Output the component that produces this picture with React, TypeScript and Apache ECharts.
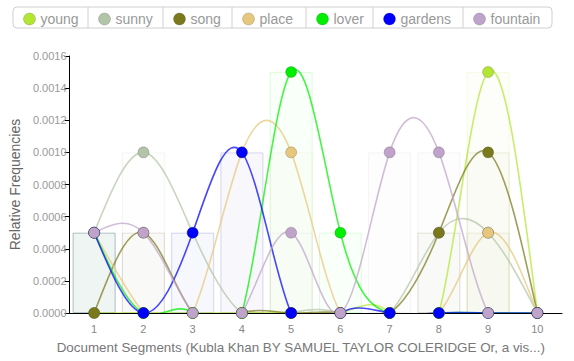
import React, { useEffect, useRef } from "react";
import * as echarts from "echarts";

const segments = ["1", "2", "3", "4", "5", "6", "7", "8", "9", "10"];
const yTicks = [0, 0.0016, 0.0002];

const seriesNames = ["young", "sunny", "song", "place", "lover", "gardens", "fountain"];
const seriesColors = ["#b2e632", "#b3c5a8", "#7a791c", "#e6c77c", "#00ee00", "#0000ff", "#c0a3cb"];

const young = [0, 0, 0, 0, 0, 0, 0, 0, 0.0015, 0];
const sunny = [0.0005, 0.001, 0.0005, 0, 0, 0, 0, 0.0005, 0.0005, 0];
const song = [0, 0.0005, 0, 0, 0, 0, 0, 0.0005, 0.001, 0];
const place = [0.0005, 0, 0, 0.001, 0.001, 0, 0, 0, 0.0005, 0];
const lover = [0.0005, 0, 0, 0, 0.0015, 0.0005, 0, 0, 0, 0];
const gardens = [0.0005, 0, 0.0005, 0.001, 0, 0, 0, 0, 0, 0];
const fountain = [0.0005, 0.0005, 0, 0, 0.0005, 0, 0.001, 0.001, 0, 0];

const seriesValues = [young, sunny, song, place, lover, gardens, fountain];

const cellEdges = [13, 88, 163, 232, 306, 373, 463, 552];

function hexToRgba(hex: string, a: number) {
  const n = parseInt(hex.slice(1), 16);
  return `rgba(${(n >> 16) & 255},${(n >> 8) & 255},${n & 255},${a})`;
}

// second derivatives of a natural cubic spline through equally spaced values
function naturalSecondDerivs(y: number[]): number[] {
  const n = y.length;
  const M = new Array(n).fill(0);
  if (n < 3) return M;
  const m = n - 2;
  const c: number[] = new Array(m).fill(0);
  const d: number[] = new Array(m).fill(0);
  for (let i = 0; i < m; i++) {
    const rhs = 6 * (y[i + 2] - 2 * y[i + 1] + y[i]);
    const denom = i === 0 ? 4 : 4 - c[i - 1];
    c[i] = 1 / denom;
    d[i] = (rhs - (i === 0 ? 0 : d[i - 1])) / denom;
  }
  const sol = new Array(m).fill(0);
  sol[m - 1] = d[m - 1];
  for (let i = m - 2; i >= 0; i--) sol[i] = d[i] - c[i] * sol[i + 1];
  for (let i = 0; i < m; i++) M[i + 1] = sol[i];
  return M;
}

export default function App() {
  const ref = useRef<HTMLDivElement>(null);
  useEffect(() => {
    if (!ref.current) return;
    const chart = echarts.init(ref.current, undefined, { renderer: "svg" });
    const font = "'Liberation Sans', Arial, sans-serif";

    const curveSeries = seriesNames.map((name, i) => {
      const vals = seriesValues[i];
      const M = naturalSecondDerivs(vals);
      return {
        type: "custom",
        name,
        data: vals.map((v, k) => [k, v]),
        encode: { x: 0, y: 1 },
        clip: true,
        silent: true,
        z: 3,
        renderItem: (params: any, api: any) => {
          const k = params.dataIndex;
          if (k >= vals.length - 1) return null;
          const y0 = vals[k];
          const y1 = vals[k + 1];
          const d0 = y1 - y0 - (2 * M[k] + M[k + 1]) / 6;
          const d1 = y1 - y0 + (M[k] + 2 * M[k + 1]) / 6;
          const p0 = api.coord([k, y0]);
          const p1 = api.coord([k + 1, y1]);
          const c1 = api.coord([k, y0 + d0 / 3]);
          const c2 = api.coord([k + 1, y1 - d1 / 3]);
          const dx = p1[0] - p0[0];
          return {
            type: "bezierCurve",
            shape: {
              x1: p0[0], y1: p0[1], x2: p1[0], y2: p1[1],
              cpx1: p0[0] + dx / 3, cpy1: c1[1],
              cpx2: p1[0] - dx / 3, cpy2: c2[1],
            },
            style: { stroke: seriesColors[i], lineWidth: 1.6, fill: "none", opacity: 0.72 },
          };
        },
      };
    });

    const pointSeries = seriesNames.map((name, i) => ({
      type: "scatter",
      name,
      data: seriesValues[i],
      z: 5,
      symbol: "circle",
      symbolSize: 11,
      itemStyle: { color: seriesColors[i], opacity: 1, borderColor: "rgba(0,0,0,0.18)", borderWidth: 1 },
    }));

    const barSeries = seriesNames.map((name, i) => ({
      type: "bar",
      name,
      data: seriesValues[i].map((v) => (v === 0 ? null : v)),
      barWidth: 43,
      barGap: "-100%",
      z: 1,
      silent: true,
      itemStyle: {
        color: hexToRgba(seriesColors[i], 0.025),
        borderColor: hexToRgba(seriesColors[i], 0.13),
        borderWidth: 1,
      },
    }));

    const legends = seriesNames.map((name, i) => ({
      data: [{ name, icon: "circle", itemStyle: { color: seriesColors[i], opacity: 1, borderColor: "rgba(0,0,0,0.15)", borderWidth: 1 } }],
      left: cellEdges[i] + 10,
      top: 12,
      padding: 0,
      itemWidth: 12,
      itemHeight: 12,
      itemGap: 6,
      textStyle: { fontFamily: font, fontSize: 14, color: "#999", padding: [0, 0, 0, 0] },
    }));

    const graphics: any[] = [
      {
        type: "rect",
        shape: { x: cellEdges[0], y: 7, width: cellEdges[7] - cellEdges[0], height: 21, r: 4 },
        style: { fill: "#fff", stroke: "#d0d0d0", lineWidth: 1 },
        z: -1,
      },
    ];
    for (let k = 1; k < cellEdges.length - 1; k++) {
      graphics.push({
        type: "line",
        shape: { x1: cellEdges[k], y1: 7, x2: cellEdges[k], y2: 28 },
        style: { stroke: "#d0d0d0", lineWidth: 1 },
        z: -1,
      });
    }

    chart.setOption({
      animation: false,
      backgroundColor: "#fff",
      graphic: graphics,
      legend: legends,
      grid: { left: 63, right: 12, top: 56, bottom: 48 },
      xAxis: {
        type: "category",
        data: segments,
        boundaryGap: true,
        name: "Document Segments (Kubla Khan BY SAMUEL TAYLOR COLERIDGE Or, a vis...)",
        nameLocation: "middle",
        nameGap: 28,
        nameTextStyle: { fontFamily: font, fontSize: 13.4, color: "#777", padding: [0, 30, 0, 0] },
        axisLine: { lineStyle: { color: "#000", width: 1 } },
        axisTick: { alignWithLabel: true, length: 5, lineStyle: { color: "#000" } },
        axisLabel: { fontFamily: font, fontSize: 11, color: "#888", margin: 10 },
        splitLine: { show: false },
      },
      yAxis: {
        type: "value",
        min: yTicks[0],
        max: yTicks[1],
        interval: yTicks[2],
        name: "Relative Frequencies",
        nameLocation: "middle",
        nameGap: 40,
        nameTextStyle: { fontFamily: font, fontSize: 14, color: "#666" },
        axisLine: { show: true, lineStyle: { color: "#000", width: 1 } },
        axisTick: { show: true, length: 5, lineStyle: { color: "#000" } },
        axisLabel: {
          fontFamily: font,
          fontSize: 11,
          color: "#999",
          margin: 3,
          formatter: (v: number) => v.toFixed(4),
        },
        splitLine: { show: false },
      },
      series: [...barSeries, ...curveSeries, ...pointSeries],
    });
    return () => chart.dispose();
  }, []);
  return <div ref={ref} style={{ width: 574, height: 361, position: "absolute", left: 0, top: 0 }} />;
}
